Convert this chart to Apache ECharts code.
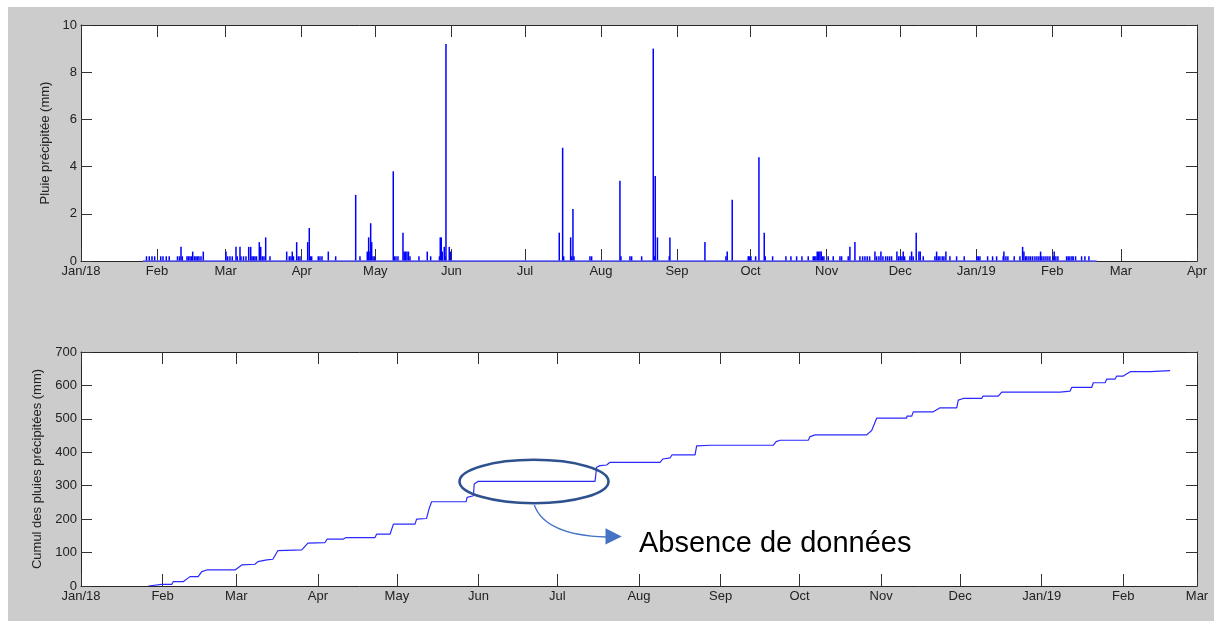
<!DOCTYPE html>
<html><head><meta charset="utf-8">
<script src="https://cdn.jsdelivr.net/npm/echarts@6/dist/echarts.min.js"></script>
<style>
html,body{margin:0;padding:0;background:#fff;}
#bg{position:absolute;left:8px;top:7px;width:1206px;height:614px;background:#cccccc;}
#chart{position:absolute;left:0;top:0;width:1214px;height:621px;}
</style></head><body><div id="bg"></div><div id="chart"></div>
<script>
// x values: days since 1 Jan 2018
const topTicks = [0,31,59,90,120,151,181,212,243,273,304,334,365,396,424,455];
const topTickLabels = ['Jan/18','Feb','Mar','Apr','May','Jun','Jul','Aug','Sep','Oct','Nov','Dec','Jan/19','Feb','Mar','Apr'];
const bottomTicks = [0,31,59,90,120,151,181,212,243,273,304,334,365,396,424];
const bottomTickLabels = ['Jan/18','Feb','Mar','Apr','May','Jun','Jul','Aug','Sep','Oct','Nov','Dec','Jan/19','Feb','Mar'];

// record period (days)
const recordStart = 25.28;
const recordEnd = 414.07;

// rain events [day, mm]
const rainfall = [
[26.70,0.2],[27.84,0.2],[28.94,0.2],[30.04,0.2],
[32.49,0.2],[33.43,0.2],[34.77,0.2],[35.96,0.2],
[39.34,0.2],[40.15,0.2],[40.77,0.6],[41.30,0.2],
[43.21,0.2],[43.82,0.2],[44.44,0.2],[45.05,0.2],[45.54,0.4],[46.27,0.2],[46.88,0.2],[47.49,0.2],[48.10,0.2],
[48.92,0.2],[49.86,0.4],
[59.11,0.4],[59.80,0.2],[60.74,0.2],[61.68,0.2],[63.19,0.6],[63.72,0.2],[64.82,0.6],[65.23,0.2],[66.25,0.2],[67.26,0.2],
[68.37,0.6],[69.18,0.6],[69.71,0.2],[70.32,0.2],[70.93,0.2],[71.54,0.2],[72.69,0.8],[73.26,0.6],[73.91,0.2],[74.60,0.2],[75.30,1.0],
[77.05,0.2],
[83.86,0.4],[84.92,0.2],[85.61,0.2],[86.14,0.4],[86.63,0.2],[87.93,0.8],[88.59,0.2],[89.28,0.2],
[92.42,0.8],[93.07,1.4],[93.48,0.2],[94.05,0.2],
[96.74,0.2],[97.43,0.2],[98.25,0.2],[100.82,0.4],[103.83,0.2],
[111.99,2.8],[113.74,0.2],
[116.71,0.4],[117.28,1.0],[117.81,0.4],[118.10,1.6],[118.51,0.8],[119.04,0.2],[119.65,0.2],
[127.31,3.8],[127.72,0.2],[128.41,0.2],[129.23,0.2],
[131.27,1.2],[131.76,0.4],[132.29,0.4],[132.90,0.4],[133.51,0.4],[134.12,0.2],
[137.79,0.2],[141.17,0.4],[142.56,0.2],
[146.15,0.2],[146.47,1.0],[146.88,1.0],[147.29,0.4],[148.10,0.6],[148.47,0.2],[148.80,9.2],[150.14,0.6],[150.63,0.4],
[194.99,1.2],[196.37,4.8],[196.78,0.2],[199.63,1.0],[200.04,0.2],[200.57,2.2],[200.98,0.2],
[207.50,0.2],[208.19,0.2],
[219.73,3.4],[220.14,0.2],
[223.81,0.2],[224.50,0.2],[228.58,0.2],
[233.31,9.0],[233.71,0.2],[234.12,3.6],[235.02,1.0],
[239.83,0.2],[240.11,1.0],
[254.38,0.8],
[262.94,0.2],[263.47,0.4],[265.51,2.6],
[272.03,0.2],[272.44,0.2],[273.13,0.2],[275.05,0.2],[276.40,4.4],[278.56,1.2],[278.96,0.2],[281.98,0.2],
[287.40,0.2],[289.44,0.2],[291.77,0.2],[293.93,0.2],[296.49,0.2],
[298.53,0.2],[299.10,0.2],[299.63,0.2],[300.16,0.4],[300.73,0.4],[301.26,0.4],[301.79,0.4],[302.36,0.2],[302.89,0.2],
[304.65,0.2],[306.69,0.2],[309.42,0.2],[310.11,0.2],
[312.80,0.2],[313.49,0.6],[315.53,0.8],
[317.57,0.2],[318.67,0.2],[319.61,0.2],[320.55,0.2],[321.52,0.2],[323.69,0.4],[324.38,0.2],[325.32,0.2],[326.13,0.4],[326.95,0.2],
[328.05,0.2],[328.86,0.2],[329.68,0.2],[330.49,0.2],
[332.65,0.4],[333.35,0.2],[334.00,0.2],[334.69,0.2],[335.22,0.4],[335.79,0.2],
[337.95,0.2],[338.64,0.4],[339.30,0.2],[340.52,1.2],[341.62,0.4],[342.16,0.4],[343.38,0.2],
[348.15,0.2],[348.84,0.4],[349.49,0.2],[350.18,0.2],[351.12,0.2],[351.81,0.2],[352.63,0.4],
[354.26,0.2],[356.99,0.2],[360.09,0.2],
[365.27,0.2],[365.80,0.2],[366.49,0.2],[369.63,0.2],[371.67,0.2],[373.30,0.2],
[375.99,0.2],[376.27,0.4],[377.09,0.2],[377.90,0.2],[380.48,0.2],
[382.80,0.2],[383.90,0.6],[384.43,0.4],[385.12,0.2],[385.65,0.2],[386.47,0.2],[387.16,0.2],[387.98,0.2],
[388.91,0.2],[389.73,0.2],[390.54,0.2],[391.23,0.4],[391.76,0.2],[392.58,0.2],[393.40,0.2],[394.21,0.2],[395.03,0.2],
[396.37,0.2],[396.78,0.4],[397.47,0.2],[398.29,0.2],
[401.83,0.2],[402.49,0.2],[403.18,0.2],[404.00,0.2],[404.53,0.2],[405.50,0.2],
[407.95,0.2],[409.30,0.2],[410.93,0.2]
];

// cumulative rain [day, mm]
const cumul = [
[25.6,0],[30.7,5],[34.5,5],[35.0,13],[38.8,13],[41.4,28],[44.5,28],[45.9,43],[47.8,48],[58.5,48],
[61.1,63],[66.1,65],[67.2,73],[70.6,78],[72.9,80],[74.8,106],[83.9,108],[86.2,128],[92.7,130],[93.5,140],[99.5,140],
[100.7,145],[111.7,145],[112.3,155],[117.4,155],[118.7,185],[126.9,185],[127.5,200],[131.3,202],[132.2,230],[133.2,252],
[146.3,252],[146.7,265],[149.1,270],[149.4,305],[150.9,313],[195.3,313],[195.9,355],[197.2,360],[199.7,362],[201.0,370],
[220.0,370],[221.1,380],[223.8,383],[224.5,392],[233.3,392],[233.9,419],[239.6,421],[263.0,421],[264.1,432],[265.6,436],
[276.3,436],[277.0,447],[278.9,452],[298.5,452],[300.4,465],[302.3,502],[313.7,502],[313.8,508],[315.6,508],[316.2,521],
[323.8,521],[326.4,533],[332.7,533],[333.3,556],[335.2,561],[342.2,561],[342.7,568],[348.5,568],[349.8,580],[372.0,580],
[372.3,583],[375.8,583],[376.4,594],[384.0,594],[384.6,608],[389.1,608],[389.7,619],[392.9,619],[393.5,628],[396.0,628],
[398.6,641],[406.2,641],[406.8,644],[413.8,644]
];

const annotationText = 'Absence de données';

const FONT = "'Liberation Sans', Arial, sans-serif";
const AX = '#262626';
const LBL = '#222222';

function xAxes(gridIndex, max, ticks, labels) {
  const base = {
    gridIndex, type: 'value', min: 0, max,
    splitLine: {show: false},
    axisLine: {show: true, onZero: false, lineStyle: {color: AX, width: 1}},
    axisTick: {show: true, inside: true, length: 12, customValues: ticks, lineStyle: {color: '#333', width: 1}}
  };
  return [
    Object.assign({}, base, {
      position: 'bottom',
      axisLabel: {show: true, customValues: ticks, margin: 4, fontSize: 13, fontFamily: FONT, color: LBL,
        formatter: v => { const i = ticks.indexOf(Math.round(v)); return i >= 0 ? labels[i] : ''; }}
    }),
    Object.assign({}, base, {position: 'top', axisLabel: {show: false}})
  ];
}
function yAxes(gridIndex, max, interval, name, gap) {
  const base = {
    gridIndex, type: 'value', min: 0, max, interval,
    splitLine: {show: false},
    axisLine: {show: true, onZero: false, lineStyle: {color: AX, width: 1}},
    axisTick: {show: true, inside: true, length: 11, lineStyle: {color: '#333', width: 1}}
  };
  return [
    Object.assign({}, base, {
      position: 'left', name, nameLocation: 'middle', nameGap: gap,
      nameTextStyle: {fontSize: 13, fontFamily: FONT, color: LBL},
      axisLabel: {margin: 4, fontSize: 13, fontFamily: FONT, color: LBL}
    }),
    Object.assign({}, base, {position: 'right', axisLabel: {show: false}})
  ];
}

const chart = echarts.init(document.getElementById('chart'), null, {renderer: 'canvas'});
chart.setOption({
  animation: false,
  backgroundColor: 'transparent',
  grid: [
    {left: 81, top: 25, width: 1116, height: 236, show: true, backgroundColor: '#ffffff', borderWidth: 0},
    {left: 81, top: 352, width: 1116, height: 234, show: true, backgroundColor: '#ffffff', borderWidth: 0}
  ],
  xAxis: [].concat(xAxes(0, 455, topTicks, topTickLabels), xAxes(1, 424, bottomTicks, bottomTickLabels)),
  yAxis: [].concat(yAxes(0, 10, 2, 'Pluie précipitée (mm)', 28), yAxes(1, 700, 100, 'Cumul des pluies précipitées (mm)', 35)),
  series: [
    {type: 'bar', xAxisIndex: 0, yAxisIndex: 0, data: rainfall, barWidth: 1.5,
     itemStyle: {color: '#0000ff'}, silent: true},
    {type: 'line', xAxisIndex: 0, yAxisIndex: 0, data: [[recordStart, 0], [recordEnd, 0]],
     symbol: 'none', clip: false, z: 3, lineStyle: {color: '#5a5aff', width: 1.5}, silent: true},
    {type: 'line', xAxisIndex: 2, yAxisIndex: 2, data: cumul, symbol: 'none',
     lineStyle: {color: '#2a2aff', width: 1.2}, silent: true}
  ],
  graphic: [
    {type: 'ellipse', shape: {cx: 534, cy: 481.5, rx: 74.5, ry: 21.7}, z: 100,
     style: {fill: 'none', stroke: '#2f528f', lineWidth: 2.6}},
    {type: 'bezierCurve', shape: {x1: 534.3, y1: 505, cpx1: 545, cpy1: 535, x2: 606, y2: 537}, z: 100,
     style: {fill: 'none', stroke: '#4472c4', lineWidth: 1.3}},
    {type: 'polygon', shape: {points: [[605.5, 528.3], [621.7, 536.5], [605.5, 544.5]]}, z: 100,
     style: {fill: '#4472c4'}},
    {type: 'text', x: 639, y: 544, z: 100,
     style: {text: annotationText, fontSize: 29, fontFamily: FONT, fill: '#000000', verticalAlign: 'middle', align: 'left'}}
  ]
});
</script></body></html>
